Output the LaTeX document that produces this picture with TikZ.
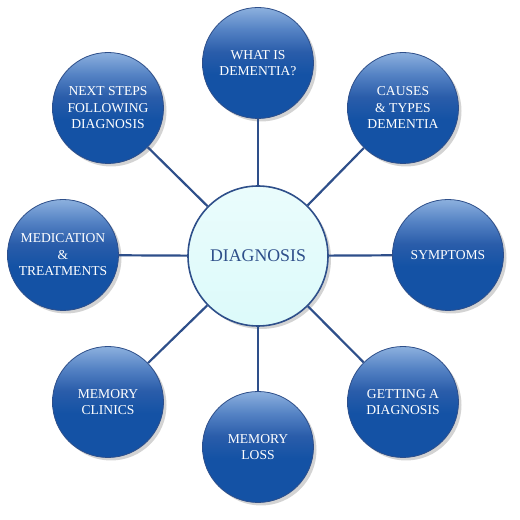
\documentclass[tikz,border=0pt]{standalone}
\usepackage{amsmath,amssymb}
\usepackage{fontspec}
\setmainfont{Liberation Serif}
\usepackage{pgf,tikz}
\usetikzlibrary{arrows,shadows}

\definecolor{linkblue}{HTML}{2E4F8A}
\definecolor{ballhi}{HTML}{8CB0DE}
\definecolor{ballup}{HTML}{5482C4}
\definecolor{ballmid}{HTML}{2A5DAA}
\definecolor{balllo}{HTML}{1452A5}
\definecolor{hubfill}{HTML}{DCFAFA}

% dark lower half, light cap on top
\pgfdeclareverticalshading{ballshade}{100bp}{color(0bp)=(balllo); color(25bp)=(balllo);
  color(45bp)=(balllo); color(55bp)=(ballmid); color(65bp)=(ballup); color(75bp)=(ballhi);
  color(100bp)=(ballhi)}

\tikzset{
  ball/.style={circle,draw=linkblue,line width=0.8pt,minimum size=111pt,inner sep=0pt,
    shading=ballshade,
    drop shadow={opacity=0.35,shadow xshift=3pt,shadow yshift=-3pt},
    text=white,align=center,font=\fontsize{13.6}{16.5}\selectfont},
  hub/.style={circle,draw=linkblue,line width=1.6pt,minimum size=140pt,inner sep=0pt,
    top color=hubfill!60!white,bottom color=hubfill,
    drop shadow={opacity=0.35,shadow xshift=3pt,shadow yshift=-3pt},
    text=linkblue,font=\fontsize{17.8}{20}\selectfont},
  link/.style={draw=linkblue,line width=2.2pt}
}

\begin{document}
\begin{tikzpicture}[line cap=round,line join=round,x=1pt,y=1pt]
      \useasboundingbox (0,0) rectangle (520,520);

      \node[hub] (dx) at (258,264) {DIAGNOSIS};

      \node[ball] (what)    at (258,457) {WHAT IS\\DEMENTIA?};
      \node[ball] (causes)  at (403,412) {CAUSES\\\& TYPES\\DEMENTIA};
      \node[ball] (symp)    at (448,265) {SYMPTOMS};
      \node[ball] (getting) at (403,118) {GETTING A\\DIAGNOSIS};
      \node[ball] (loss)    at (258,73)  {MEMORY\\LOSS};
      \node[ball] (clinics) at (108,118) {MEMORY\\CLINICS};
      \node[ball] (medic)   at (63,265)  {MEDICATION\\\&\\TREATMENTS};
      \node[ball] (next)    at (108,412) {NEXT STEPS\\FOLLOWING\\DIAGNOSIS};

      \foreach \b in {what,causes,symp,getting,loss,clinics,medic,next}{
        \draw[link,line cap=butt] (dx) -- (\b);
      }
\end{tikzpicture}
\end{document}
